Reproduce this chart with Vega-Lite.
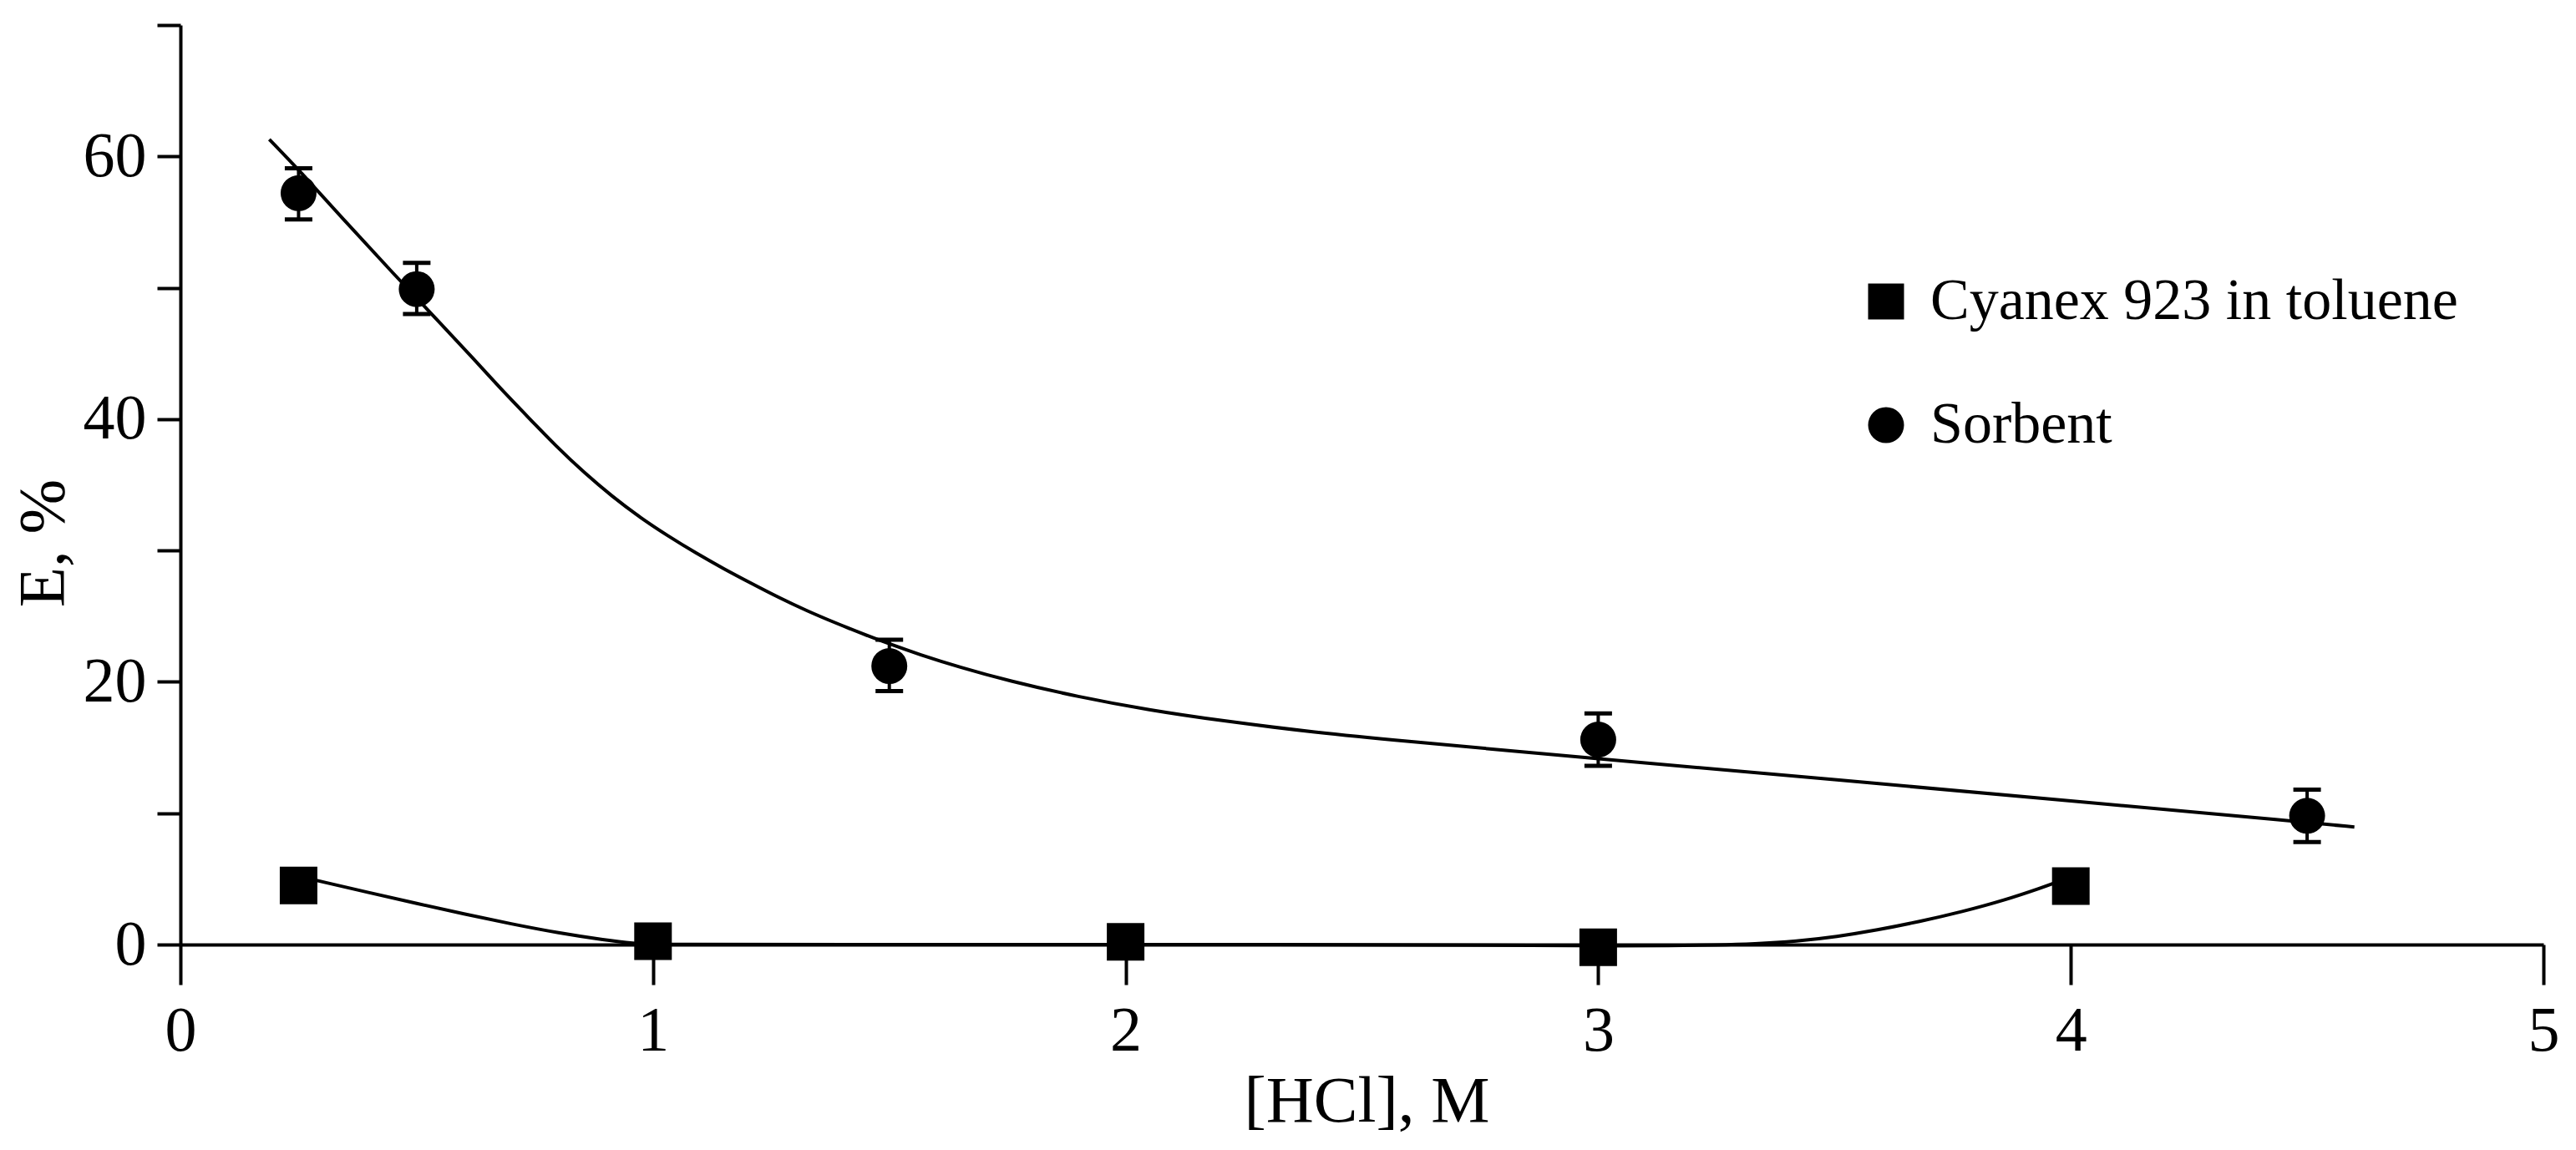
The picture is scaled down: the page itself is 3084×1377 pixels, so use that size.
{
  "$schema": "https://vega.github.io/schema/vega-lite/v6.json",
  "width": 2829,
  "height": 1101,
  "autosize": "none",
  "padding": {"left": 216, "top": 30, "right": 39, "bottom": 246},
  "background": "white",
  "config": {
    "view": {"stroke": null},
    "font": "Liberation Serif",
    "axis": {
      "grid": false,
      "domainColor": "black",
      "domainWidth": 4,
      "tickColor": "black",
      "tickWidth": 4,
      "labelFont": "Liberation Serif",
      "labelFontSize": 76,
      "labelColor": "black",
      "titleFont": "Liberation Serif",
      "titleFontSize": 79,
      "titleFontWeight": "normal",
      "titleColor": "black"
    },
    "legend": {
      "labelFont": "Liberation Serif",
      "labelFontSize": 70,
      "labelColor": "black",
      "labelLimit": 0
    }
  },
  "datasets": {
    "points": [
      {"series": "Cyanex 923 in toluene", "x": 0.25, "y": 4.5},
      {"series": "Cyanex 923 in toluene", "x": 1, "y": 0.25},
      {"series": "Cyanex 923 in toluene", "x": 2, "y": 0.2},
      {"series": "Cyanex 923 in toluene", "x": 3, "y": -0.2},
      {"series": "Cyanex 923 in toluene", "x": 4, "y": 4.45},
      {"series": "Sorbent", "x": 0.25, "y": 57.2},
      {"series": "Sorbent", "x": 0.5, "y": 49.9},
      {"series": "Sorbent", "x": 1.5, "y": 21.2},
      {"series": "Sorbent", "x": 3, "y": 15.6},
      {"series": "Sorbent", "x": 4.5, "y": 9.8}
    ],
    "errors": [
      {"x": 0.25, "lo": 55.2, "hi": 59.1},
      {"x": 0.5, "lo": 48.0, "hi": 51.9},
      {"x": 1.5, "lo": 19.3, "hi": 23.2},
      {"x": 3, "lo": 13.6, "hi": 17.6},
      {"x": 4.5, "lo": 7.8, "hi": 11.8}
    ],
    "curves": [
      {"curve": "sorbent", "x": 0.188, "y": 61.3},
      {"curve": "sorbent", "x": 0.25, "y": 59.0},
      {"curve": "sorbent", "x": 0.35, "y": 55.0},
      {"curve": "sorbent", "x": 0.45, "y": 51.1},
      {"curve": "sorbent", "x": 0.55, "y": 47.3},
      {"curve": "sorbent", "x": 0.62, "y": 44.6},
      {"curve": "sorbent", "x": 0.678, "y": 42.3},
      {"curve": "sorbent", "x": 0.737, "y": 40.1},
      {"curve": "sorbent", "x": 0.796, "y": 37.9},
      {"curve": "sorbent", "x": 0.855, "y": 35.9},
      {"curve": "sorbent", "x": 0.914, "y": 34.1},
      {"curve": "sorbent", "x": 0.973, "y": 32.5},
      {"curve": "sorbent", "x": 1.032, "y": 31.1},
      {"curve": "sorbent", "x": 1.091, "y": 29.8},
      {"curve": "sorbent", "x": 1.15, "y": 28.6},
      {"curve": "sorbent", "x": 1.208, "y": 27.5},
      {"curve": "sorbent", "x": 1.267, "y": 26.4},
      {"curve": "sorbent", "x": 1.326, "y": 25.4},
      {"curve": "sorbent", "x": 1.385, "y": 24.5},
      {"curve": "sorbent", "x": 1.444, "y": 23.65},
      {"curve": "sorbent", "x": 1.503, "y": 22.85},
      {"curve": "sorbent", "x": 1.562, "y": 22.1},
      {"curve": "sorbent", "x": 1.65, "y": 21.1},
      {"curve": "sorbent", "x": 1.75, "y": 20.1},
      {"curve": "sorbent", "x": 1.9, "y": 18.85},
      {"curve": "sorbent", "x": 2.05, "y": 17.85},
      {"curve": "sorbent", "x": 2.2, "y": 17.05},
      {"curve": "sorbent", "x": 2.4, "y": 16.15},
      {"curve": "sorbent", "x": 2.6, "y": 15.45},
      {"curve": "sorbent", "x": 2.8, "y": 14.8},
      {"curve": "sorbent", "x": 3.0, "y": 14.15},
      {"curve": "sorbent", "x": 3.5, "y": 12.55},
      {"curve": "sorbent", "x": 4.0, "y": 10.95},
      {"curve": "sorbent", "x": 4.5, "y": 9.3},
      {"curve": "sorbent", "x": 4.6, "y": 8.95},
      {"curve": "cyanex", "x": 0.25, "y": 5.2},
      {"curve": "cyanex", "x": 0.3, "y": 4.78},
      {"curve": "cyanex", "x": 0.4, "y": 3.95},
      {"curve": "cyanex", "x": 0.5, "y": 3.13},
      {"curve": "cyanex", "x": 0.6, "y": 2.33},
      {"curve": "cyanex", "x": 0.7, "y": 1.57},
      {"curve": "cyanex", "x": 0.8, "y": 0.88},
      {"curve": "cyanex", "x": 0.9, "y": 0.33},
      {"curve": "cyanex", "x": 0.96, "y": 0.08},
      {"curve": "cyanex", "x": 1.0, "y": 0.0},
      {"curve": "cyanex", "x": 1.5, "y": 0.0},
      {"curve": "cyanex", "x": 2.0, "y": 0.0},
      {"curve": "cyanex", "x": 2.5, "y": 0.0},
      {"curve": "cyanex", "x": 2.9, "y": -0.06},
      {"curve": "cyanex", "x": 3.04, "y": -0.1},
      {"curve": "cyanex", "x": 3.15, "y": -0.09},
      {"curve": "cyanex", "x": 3.25, "y": -0.03},
      {"curve": "cyanex", "x": 3.33, "y": 0.05},
      {"curve": "cyanex", "x": 3.42, "y": 0.25},
      {"curve": "cyanex", "x": 3.505, "y": 0.6},
      {"curve": "cyanex", "x": 3.59, "y": 1.1},
      {"curve": "cyanex", "x": 3.68, "y": 1.75},
      {"curve": "cyanex", "x": 3.77, "y": 2.5},
      {"curve": "cyanex", "x": 3.86, "y": 3.38},
      {"curve": "cyanex", "x": 3.94, "y": 4.35},
      {"curve": "cyanex", "x": 3.97, "y": 4.75}
    ]
  },
  "encoding": {
    "x": {
      "field": "x",
      "type": "quantitative",
      "scale": {"domain": [0, 5], "nice": false, "zero": false},
      "axis": {
        "title": "[HCl], M",
        "values": [0, 1, 2, 3, 4, 5],
        "format": "d",
        "tickSize": 48,
        "labelPadding": 18,
        "labelFlush": false,
        "titleX": 1420,
        "titleY": 211,
        "titleBaseline": "alphabetic"
      }
    }
  },
  "layer": [
    {
      "data": {"name": "curves"},
      "mark": {"type": "line", "interpolate": "basis", "color": "black", "strokeWidth": 4},
      "encoding": {
        "y": {
          "field": "y",
          "type": "quantitative",
          "scale": {"domain": [0, 70], "nice": false, "zero": false},
          "axis": {
            "title": "E, %",
            "values": [0, 10, 20, 30, 40, 50, 60, 70],
            "labelExpr": "datum.value % 20 == 0 ? datum.label : ''",
            "tickSize": 28,
            "labelPadding": 13,
            "labelFlush": false,
            "titleAngle": -90,
            "titleX": -141,
            "titleY": 620,
            "titleAlign": "center",
            "titleBaseline": "alphabetic"
          }
        },
        "detail": {"field": "curve"}
      }
    },
    {
      "data": {"name": "errors"},
      "mark": {"type": "rule", "color": "black", "strokeWidth": 4},
      "encoding": {
        "y": {"field": "lo", "type": "quantitative"},
        "y2": {"field": "hi"}
      }
    },
    {
      "data": {"name": "errors"},
      "mark": {"type": "tick", "orient": "horizontal", "color": "black", "size": 33, "thickness": 5, "opacity": 1},
      "encoding": {
        "y": {"field": "lo", "type": "quantitative"}
      }
    },
    {
      "data": {"name": "errors"},
      "mark": {"type": "tick", "orient": "horizontal", "color": "black", "size": 33, "thickness": 5, "opacity": 1},
      "encoding": {
        "y": {"field": "hi", "type": "quantitative"}
      }
    },
    {
      "data": {"name": "points"},
      "transform": [{"filter": "datum.series === 'Cyanex 923 in toluene'"}],
      "mark": {"type": "point", "filled": true, "color": "black", "opacity": 1, "size": 2025},
      "encoding": {
        "y": {"field": "y", "type": "quantitative"},
        "shape": {
          "field": "series",
          "type": "nominal",
          "scale": {"domain": ["Cyanex 923 in toluene", "Sorbent"], "range": ["square", "circle"]},
          "legend": {
            "title": null,
            "orient": "none",
            "legendX": 2007,
            "legendY": 296,
            "padding": 0,
            "symbolSize": 1850,
            "symbolFillColor": "black",
            "symbolStrokeColor": "black",
            "symbolStrokeWidth": 0,
            "symbolOpacity": 1,
            "labelOffset": 18,
            "labelLimit": 0,
            "rowPadding": 78
          }
        }
      }
    },
    {
      "data": {"name": "points"},
      "transform": [{"filter": "datum.series === 'Sorbent'"}],
      "mark": {"type": "point", "filled": true, "color": "black", "opacity": 1, "size": 1850},
      "encoding": {
        "y": {"field": "y", "type": "quantitative"},
        "shape": {
          "field": "series",
          "type": "nominal",
          "scale": {"domain": ["Cyanex 923 in toluene", "Sorbent"], "range": ["square", "circle"]}
        }
      }
    }
  ]
}
